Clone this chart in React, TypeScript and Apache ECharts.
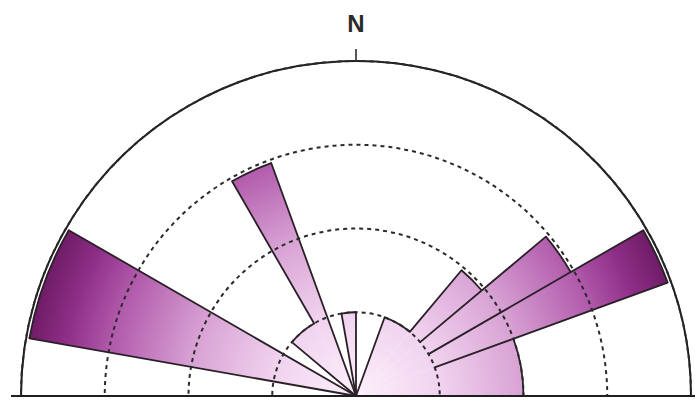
import React, { useEffect, useRef } from 'react';
import * as echarts from 'echarts';

// Rose diagram petals: compass azimuth range (degrees, clockwise from N) and length (% of outer circle)
const petalStart = [280, 310, 330, 350, 20, 40, 50, 60, 70];
const petalEnd = [300, 330, 340, 360, 40, 50, 60, 70, 90];
const petalValue = [99, 25, 74, 25, 25, 49, 74, 99, 50];

// Concentric reference circles (% of outer circle)
const ringInterval = 25;
const ringMax = 100;
const innerRing = 25;

// Direction label
const northLabel = 'N';

const gradientStops = [
  { offset: 0, color: '#fcf0fb' },
  { offset: 0.25, color: '#f1d3ef' },
  { offset: 0.5, color: '#d8a2d4' },
  { offset: 0.75, color: '#b058aa' },
  { offset: 0.88, color: '#8e2f87' },
  { offset: 1, color: '#6c1a64' },
];

export default function App() {
  const ref = useRef<HTMLDivElement>(null);

  useEffect(() => {
    const chart = echarts.init(ref.current as HTMLDivElement, null, { renderer: 'svg' });

    const makeGradient = (cs: any) =>
      new echarts.graphic.RadialGradient(cs.cx, cs.cy, cs.r, gradientStops, true);

    const angleOf = (p: number[], cs: any) => Math.atan2(p[1] - cs.cy, p[0] - cs.cx);

    const petalGeom = (i: number, params: any, api: any) => {
      const cs = params.coordSys;
      const p0 = api.coord([petalValue[i], petalStart[i]]);
      const p1 = api.coord([petalValue[i], petalEnd[i]]);
      const a0 = angleOf(p0, cs);
      let a1 = angleOf(p1, cs);
      while (a1 <= a0) a1 += Math.PI * 2;
      const r = Math.hypot(p0[0] - cs.cx, p0[1] - cs.cy);
      return { cs, a0, a1, r };
    };

    const data = petalValue.map((v, i) => [v, (petalStart[i] + petalEnd[i]) / 2, i]);

    const strokeColor = '#2a2027';
    const strokeWidth = 1.8;

    const radialEdge = (api: any, angle: number, lo: number, hi: number) => {
      const a = api.coord([lo, angle]);
      const b = api.coord([hi, angle]);
      return {
        type: 'line',
        shape: { x1: a[0], y1: a[1], x2: b[0], y2: b[1] },
        style: { stroke: strokeColor, lineWidth: strokeWidth, lineCap: 'round' },
      };
    };

    const norm = (a: number) => ((a % 360) + 360) % 360;

    chart.setOption({
      animation: false,
      polar: { center: [356, 396], radius: 335 },
      angleAxis: {
        type: 'value',
        min: 0,
        max: 360,
        interval: 360,
        startAngle: 90,
        clockwise: true,
        axisLine: { show: true, lineStyle: { color: '#1e1e1e', width: 2 } },
        axisTick: { show: true, inside: false, length: 12, lineStyle: { color: '#1e1e1e', width: 1.5 } },
        axisLabel: {
          show: true,
          margin: 26,
          formatter: (v: number) => (v === 0 ? northLabel : ''),
          fontSize: 24,
          fontWeight: 600,
          color: '#2b2b2b',
          fontFamily: 'Liberation Sans, Arial, sans-serif',
        },
        splitLine: { show: false },
      },
      radiusAxis: {
        type: 'value',
        min: 0,
        max: ringMax,
        interval: ringInterval,
        z: 5,
        axisLine: { show: false },
        axisTick: { show: false },
        axisLabel: { show: false },
        splitLine: { show: true, lineStyle: { type: [4, 4], color: '#2a2a2a', width: 2 } },
      },
      series: [
        {
          type: 'custom',
          name: 'petals',
          coordinateSystem: 'polar',
          encode: { radius: 0, angle: 1 },
          data,
          z: 2,
          renderItem: (params: any, api: any) => {
            const i = api.value(2);
            const { cs, a0, a1, r } = petalGeom(i, params, api);
            return {
              type: 'sector',
              shape: { cx: cs.cx, cy: cs.cy, r0: 0, r, startAngle: a0, endAngle: a1, clockwise: true },
              style: { fill: makeGradient(cs), stroke: 'none' },
            };
          },
        },
        {
          type: 'custom',
          name: 'outlines',
          coordinateSystem: 'polar',
          encode: { radius: 0, angle: 1 },
          data,
          z: 3,
          renderItem: (params: any, api: any) => {
            const i = api.value(2);
            const { cs, a0, a1, r } = petalGeom(i, params, api);
            const children: any[] = [
              {
                type: 'arc',
                shape: { cx: cs.cx, cy: cs.cy, r, startAngle: a0, endAngle: a1, clockwise: true },
                style: { stroke: strokeColor, lineWidth: strokeWidth, fill: 'none' },
              },
            ];
            const prev = petalEnd.findIndex((e) => norm(e) === norm(petalStart[i]));
            if (prev >= 0) {
              children.push(radialEdge(api, petalStart[i], innerRing, Math.max(petalValue[i], petalValue[prev])));
            } else {
              children.push(radialEdge(api, petalStart[i], 0, petalValue[i]));
            }
            const next = petalStart.findIndex((s) => norm(s) === norm(petalEnd[i]));
            if (next < 0) {
              children.push(radialEdge(api, petalEnd[i], 0, petalValue[i]));
            }
            return { type: 'group', children };
          },
        },
      ],
      graphic: [
        {
          type: 'rect',
          z: 100,
          shape: { x: 0, y: 397, width: 695, height: 10 },
          style: { fill: '#ffffff' },
        },
        {
          type: 'line',
          z: 101,
          shape: { x1: 11, y1: 396, x2: 695, y2: 396 },
          style: { stroke: '#1e1e1e', lineWidth: 2 },
        },
      ],
    });

    return () => chart.dispose();
  }, []);

  return (
    <div
      ref={ref}
      style={{ position: 'absolute', left: 0, top: 0, width: 695, height: 400, background: '#ffffff' }}
    />
  );
}
